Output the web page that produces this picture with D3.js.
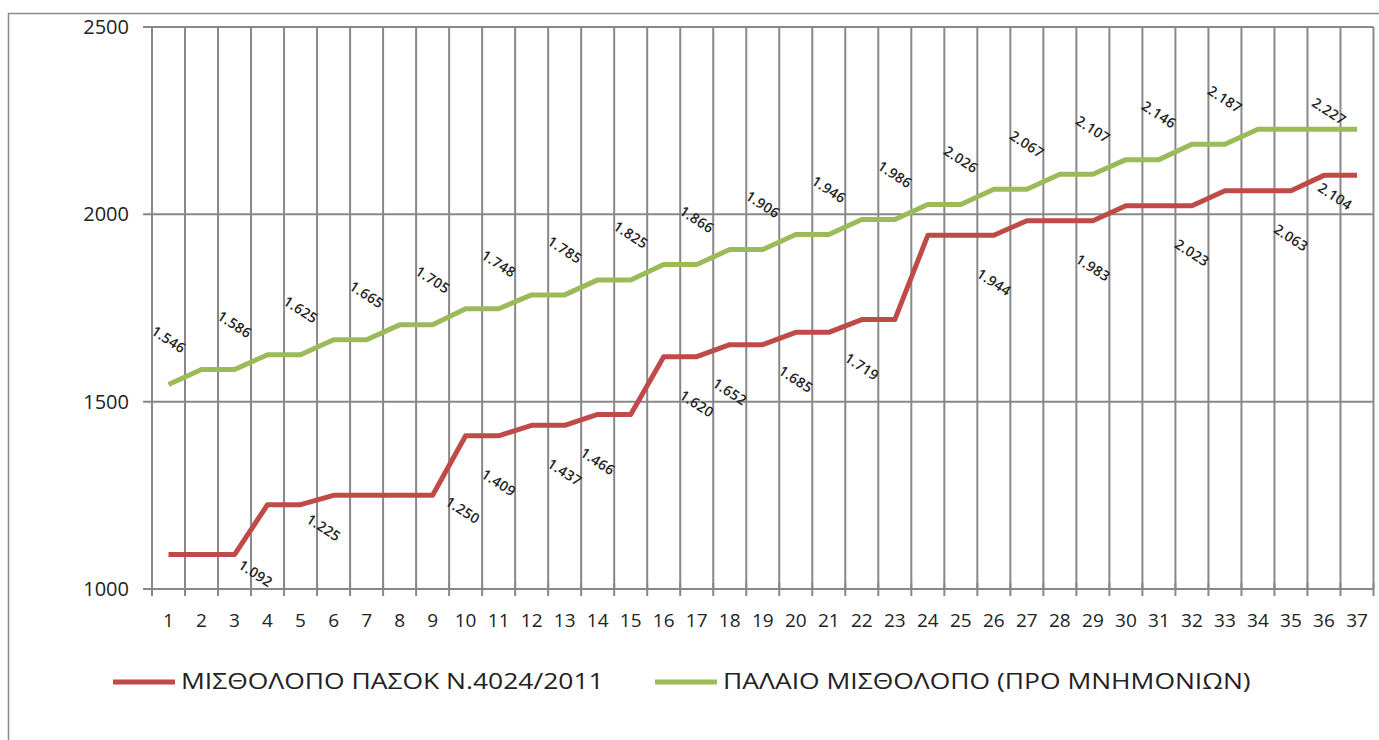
<!DOCTYPE html>
<html>
<head>
<meta charset="utf-8">
<script src="https://cdn.jsdelivr.net/npm/d3@7"></script>
<style>
  body { margin: 0; background: #fff; }
  svg { display: block; }
</style>
</head>
<body>
<svg id="chart"></svg>
<script>
// Steps 1..37
var categories = ["1","2","3","4","5","6","7","8","9","10","11","12","13","14","15","16","17","18","19",
  "20","21","22","23","24","25","26","27","28","29","30","31","32","33","34","35","36","37"];

// ΜΙΣΘΟΛΟΓΙΟ ΠΑΣΟΚ (red)
var newPay = [1092,1092,1092,1225,1225,1250,1250,1250,1250,1409,1409,1437,1437,1466,1466,1620,1620,
  1652,1652,1685,1685,1719,1719,1944,1944,1944,1983,1983,1983,2023,2023,2023,2063,2063,2063,2104,2104];

// ΠΑΛΑΙΟ ΜΙΣΘΟΛΟΓΙΟ (green)
var oldPay = [1546,1586,1586,1625,1625,1665,1665,1705,1705,1748,1748,1785,1785,1825,1825,1866,1866,
  1906,1906,1946,1946,1986,1986,2026,2026,2067,2067,2107,2107,2146,2146,2187,2187,2227,2227,2227,2227];

var yTicks = [1000, 1500, 2000, 2500];

// which steps carry a value label
var oldLabelSteps = ["1","3","5","7","9","11","13","15","17","19","21","23","25","27","29","31","33","36"];
var newLabelSteps = ["3","5","9","11","13","14","17","18","20","22","26","29","32","35","36"];

var seriesNames = ["ΜΙΣΘΟΛΟΠΟ ΠΑΣΟΚ Ν.4024/2011", "ΠΑΛΑΙΟ ΜΙΣΘΟΛΟΠΟ (ΠΡΟ ΜΝΗΜΟΝΙΩΝ)"];

// label placement nudges (pixels), default is straight above / below the point
var oldNudge = { "36": [5, -18] };
var newNudge = { "3": [21, 19], "5": [23, 23], "9": [30, 15], "36": [11, 21] };

var width = 1379, height = 740;
var red = "#be4b48", green = "#9bbb59";
var font = "'Open Sans', 'DejaVu Sans', sans-serif";

var svg = d3.select("#chart")
  .attr("width", width)
  .attr("height", height);

// chart border (right / bottom edges fall outside the picture)
svg.append("rect")
  .attr("x", 8.5).attr("y", 13.5)
  .attr("width", 1400).attr("height", 760)
  .attr("fill", "none")
  .attr("stroke", "#8a8a8a")
  .attr("stroke-width", 1.5);

var x = d3.scaleBand()
  .domain(categories)
  .range([152, 1373.5]);

var y = d3.scaleLinear()
  .domain([1000, 2500])
  .range([589, 27]);

// horizontal gridlines + y ticks
svg.append("g")
  .selectAll("line")
  .data(yTicks)
  .enter().append("line")
  .attr("x1", 143)
  .attr("x2", x.range()[1])
  .attr("y1", function(d) { return y(d); })
  .attr("y2", function(d) { return y(d); })
  .attr("stroke", "#888")
  .attr("stroke-width", 2);

svg.append("g")
  .selectAll("text")
  .data(yTicks)
  .enter().append("text")
  .attr("x", 129)
  .attr("y", function(d) { return y(d); })
  .attr("dy", "0.35em")
  .attr("text-anchor", "end")
  .style("font-family", font)
  .style("font-size", "20px")
  .attr("fill", "#222")
  .text(function(d) { return d; });

// vertical gridlines at category boundaries
var bounds = categories.map(function(c) { return x(c); }).concat([x.range()[1]]);
svg.append("g")
  .selectAll("line")
  .data(bounds)
  .enter().append("line")
  .attr("x1", function(d) { return d; })
  .attr("x2", function(d) { return d; })
  .attr("y1", y(2500))
  .attr("y2", y(1000) + 7)
  .attr("stroke", "#888")
  .attr("stroke-width", 2);

// x axis ticks crossing above the axis
svg.append("g")
  .selectAll("line")
  .data(bounds)
  .enter().append("line")
  .attr("x1", function(d) { return d; })
  .attr("x2", function(d) { return d; })
  .attr("y1", y(1000) - 6)
  .attr("y2", y(1000))
  .attr("stroke", "#888")
  .attr("stroke-width", 2);

svg.append("g")
  .selectAll("text")
  .data(categories)
  .enter().append("text")
  .attr("x", function(d) { return x(d) + x.bandwidth() / 2; })
  .attr("y", 627)
  .attr("text-anchor", "middle")
  .style("font-family", font)
  .style("font-size", "19px")
  .attr("fill", "#222")
  .text(function(d) { return d; });

// lines
var line = d3.line()
  .x(function(d) { return x(d[0]) + x.bandwidth() / 2; })
  .y(function(d) { return y(d[1]); });

function pairs(vals) {
  return categories.map(function(c, i) { return [c, vals[i]]; });
}

svg.append("path")
  .datum(pairs(oldPay))
  .attr("d", line)
  .attr("fill", "none")
  .attr("stroke", green)
  .attr("stroke-width", 5)
  .attr("stroke-linejoin", "round");

svg.append("path")
  .datum(pairs(newPay))
  .attr("d", line)
  .attr("fill", "none")
  .attr("stroke", red)
  .attr("stroke-width", 5)
  .attr("stroke-linejoin", "round");

// rotated value labels (greek thousands separator)
function fmt(v) { return d3.format(",")(v).replace(",", "."); }

function addLabels(steps, vals, dyDefault, nudge) {
  svg.append("g")
    .selectAll("text")
    .data(steps)
    .enter().append("text")
    .attr("transform", function(c) {
      var i = categories.indexOf(c);
      var n = nudge[c] || [0, dyDefault];
      var cx = x(c) + x.bandwidth() / 2 + n[0];
      var cy = y(vals[i]) + n[1];
      return "translate(" + cx + "," + cy + ") rotate(33)";
    })
    .attr("dy", "0.35em")
    .attr("text-anchor", "middle")
    .style("font-family", font)
    .style("font-size", "14px")
    .style("font-weight", "600")
    .style("letter-spacing", "0.3px")
    .attr("fill", "#222")
    .text(function(c) { return fmt(vals[categories.indexOf(c)]); });
}

addLabels(oldLabelSteps, oldPay, -45, oldNudge);
addLabels(newLabelSteps, newPay, 47, newNudge);

// legend
var legend = [
  { name: seriesNames[0], color: red, x0: 113 },
  { name: seriesNames[1], color: green, x0: 655 }
];

var lg = svg.append("g")
  .selectAll("g")
  .data(legend)
  .enter().append("g")
  .attr("transform", function(d) { return "translate(" + d.x0 + ",682)"; });

lg.append("line")
  .attr("x1", 0).attr("x2", 62)
  .attr("y1", 0).attr("y2", 0)
  .attr("stroke", function(d) { return d.color; })
  .attr("stroke-width", 5);

// legend text is drawn a bit wider, like the stretched original
lg.append("text")
  .attr("transform", "translate(68,0) scale(1.26,1)")
  .attr("dy", "0.35em")
  .style("font-family", font)
  .style("font-size", "21px")
  .attr("fill", "#222")
  .text(function(d) { return d.name; });
</script>
</body>
</html>
